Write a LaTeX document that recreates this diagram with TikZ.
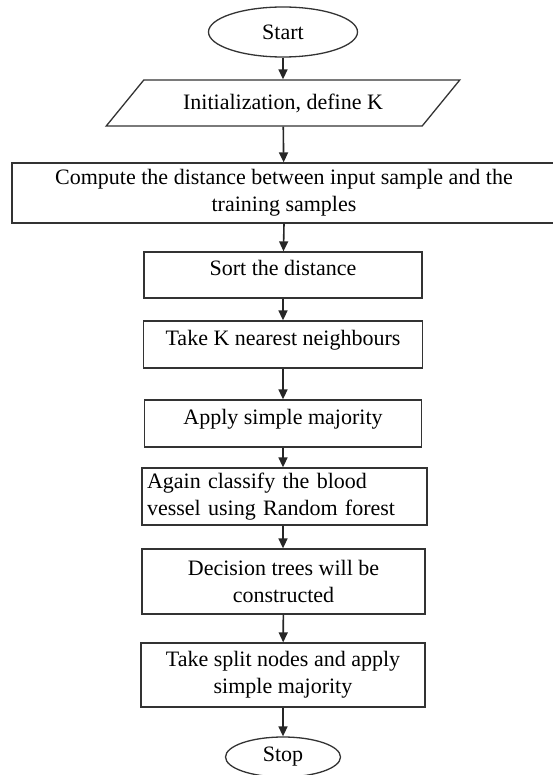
\documentclass[tikz,border=0pt]{standalone}
\usepackage{fontspec}
\setmainfont{Liberation Serif}
\usetikzlibrary{shapes.geometric,arrows.meta}

\tikzset{
  flowtext/.style={font=\fontsize{22}{27}\selectfont},
  procbox/.style={draw=black!80, rectangle, align=center, inner sep=0pt, flowtext},
  termnode/.style={draw=black!80, ellipse, inner sep=0pt, flowtext},
  ionode/.style={draw=black!80, trapezium, trapezium left angle=35,
    trapezium right angle=145, trapezium stretches=true, inner sep=0pt, flowtext},
  oneline/.style={text depth=14pt},
  flowline/.style={draw=black!85, line width=1.6pt, -{Triangle[length=10pt,width=9pt]}},
}

\begin{document}
\begin{tikzpicture}[x=1pt,y=-1pt,line width=1.3pt]
\useasboundingbox (0,0) rectangle (552,775);

\node[termnode, minimum width=149pt, minimum height=50pt] (start) at (283,32) {Start};
\node[ionode, minimum width=354pt, minimum height=46pt] (init) at (283,103) {Initialization, define K};

\node[procbox, minimum width=544pt, minimum height=60pt] (dist) at (284,193)
  {Compute the distance between input sample and the\\training samples};
\node[procbox, oneline, minimum width=278pt, minimum height=46pt] (sort) at (283,275) {Sort the distance};
\node[procbox, oneline, minimum width=279pt, minimum height=47pt] (nearest) at (283,344.5) {Take K nearest neighbours};
\node[procbox, oneline, minimum width=277pt, minimum height=47pt] (major) at (283,423.5) {Apply simple majority};

\node[procbox, align=left, minimum width=285pt, minimum height=57pt, text width=275pt] (forest) at (284.5,496.5)
  {Again classify the blood\\vessel using Random forest};
\node[procbox, minimum width=283pt, minimum height=65pt] (trees) at (283.5,581.5)
  {Decision trees will be\\constructed};
\node[procbox, minimum width=284pt, minimum height=64pt] (split) at (283,675)
  {Take split nodes and apply\\simple majority};

\node[termnode, minimum width=115pt, minimum height=40pt] (stop) at (283,757) {Stop};

% connectors
\draw[flowline] (start) -- (init);
\draw[flowline] (init) -- (dist);
\draw[flowline] (dist.south) -- (sort);
\draw[flowline] (sort) -- (nearest);
\draw[flowline] (nearest) -- (major);
\draw[flowline] (major) -- (major.south |- forest.north);
\draw[flowline] (forest.south -| major.south) -- (major.south |- trees.north);
\draw[flowline] (trees) -- (split);
\draw[flowline] (split) -- (stop);
\end{tikzpicture}
\end{document}
